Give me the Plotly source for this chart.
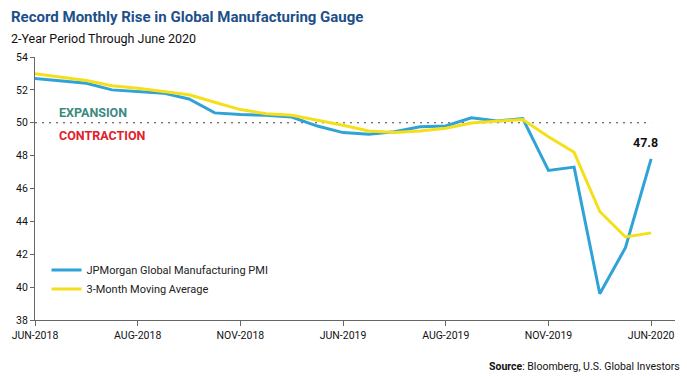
import plotly.graph_objects as go

months = ["Jun-2018", "Jul-2018", "Aug-2018", "Sep-2018", "Oct-2018", "Nov-2018", "Dec-2018",
          "Jan-2019", "Feb-2019", "Mar-2019", "Apr-2019", "May-2019", "Jun-2019", "Jul-2019",
          "Aug-2019", "Sep-2019", "Oct-2019", "Nov-2019", "Dec-2019", "Jan-2020", "Feb-2020",
          "Mar-2020", "Apr-2020", "May-2020", "Jun-2020"]
pmi = [52.7, 52.55, 52.4, 52.0, 51.9, 51.8, 51.45, 50.6, 50.5, 50.45, 50.35, 49.8, 49.4,
       49.3, 49.45, 49.75, 49.8, 50.3, 50.1, 50.25, 47.1, 47.3, 39.6, 42.4, 47.8]
ma3 = [52.98, 52.78, 52.57, 52.25, 52.1, 51.9, 51.7, 51.25, 50.8, 50.55, 50.45, 50.15, 49.85,
       49.5, 49.4, 49.5, 49.67, 49.98, 50.07, 50.2, 49.15, 48.2, 44.6, 43.05, 43.3]
tick_months = ["Jun-2018", "Oct-2018", "Feb-2019", "Jun-2019", "Oct-2019", "Feb-2020", "Jun-2020"]
tick_labels = ["JUN-2018", "AUG-2018", "NOV-2018", "JUN-2019", "AUG-2019", "NOV-2019", "JUN-2020"]
y_ticks = [38, 40, 42, 44, 46, 48, 50, 52, 54]

FONT = "Roboto, 'Liberation Sans', sans-serif"
BLUE = "#2fa3d8"
YELLOW = "#f5df1a"

fig = go.Figure()
fig.add_trace(go.Scatter(x=months, y=pmi, mode="lines", name="JPMorgan Global Manufacturing PMI",
                         line=dict(color=BLUE, width=3)))
fig.add_trace(go.Scatter(x=months, y=ma3, mode="lines", name="3-Month Moving Average",
                         line=dict(color=YELLOW, width=3)))

fig.add_shape(type="line", xref="x", yref="y", x0=months[0], x1=months[-1], y0=50, y1=50,
              line=dict(color="#444444", width=1, dash="2px,5px"), layer="below")

fig.add_annotation(x=0.0, y=50, xref="x", yref="y", text="<b>EXPANSION</b>", showarrow=False,
                   xanchor="left", yanchor="middle", xshift=22, yshift=10,
                   font=dict(family=FONT, size=12.5, color="#3b8a7e"))
fig.add_annotation(x=0.0, y=50, xref="x", yref="y", text="<b>CONTRACTION</b>", showarrow=False,
                   xanchor="left", yanchor="middle", xshift=22, yshift=-12.5,
                   font=dict(family=FONT, size=12.5, color="#e0202b"))
fig.add_annotation(x=months[-1], y=pmi[-1], xref="x", yref="y", text="<b>%.1f</b>" % pmi[-1],
                   showarrow=False, xanchor="center", yanchor="middle", xshift=-6, yshift=16,
                   font=dict(family=FONT, size=12.5, color="#111111"))

fig.add_annotation(x=0.0, y=1.0, xref="paper", yref="paper", text="<b>Record Monthly Rise in Global Manufacturing Gauge</b>",
                   showarrow=False, xanchor="left", yanchor="middle", xshift=-26, yshift=40,
                   font=dict(family=FONT, size=15, color="#1d4f8a"))
fig.add_annotation(x=0.0, y=1.0, xref="paper", yref="paper", text="2-Year Period Through June 2020",
                   showarrow=False, xanchor="left", yanchor="middle", xshift=-26, yshift=19,
                   font=dict(family=FONT, size=12.5, color="#111111"))
fig.add_annotation(x=1.0, y=0.0, xref="paper", yref="paper", text="<b>Source</b>: Bloomberg, U.S. Global Investors",
                   showarrow=False, xanchor="right", yanchor="middle", xshift=7, yshift=-46,
                   font=dict(family=FONT, size=10.5, color="#111111"))

fig.update_layout(
    width=687, height=377,
    margin=dict(l=32, r=12, t=57, b=57),
    paper_bgcolor="white", plot_bgcolor="white",
    font=dict(family=FONT, size=11, color="#222222"),
    showlegend=True,
    legend=dict(x=0.018, y=0.245, xanchor="left", yanchor="top", bgcolor="rgba(0,0,0,0)",
                font=dict(family=FONT, size=11, color="#222222"), tracegroupgap=0),
    xaxis=dict(type="category", categoryorder="array", categoryarray=months,
               range=[0, 24.93], tickmode="array", tickvals=tick_months, ticktext=tick_labels,
               showgrid=False, zeroline=False, showline=True, linecolor="#666666", linewidth=1,
               ticks="outside", ticklen=5, tickcolor="#666666",
               tickfont=dict(family=FONT, size=10.5, color="#111111")),
    yaxis=dict(range=[38, 54], tickmode="array", tickvals=y_ticks, showgrid=False, zeroline=False,
               showline=True, linecolor="#666666", linewidth=1, ticks="outside", ticklen=4,
               tickcolor="#666666", tickfont=dict(family=FONT, size=10.5, color="#111111")),
)

fig.write_html("out.html", config={"displayModeBar": False},
               post_script="document.body.style.margin='0';document.body.style.overflow='hidden';")
